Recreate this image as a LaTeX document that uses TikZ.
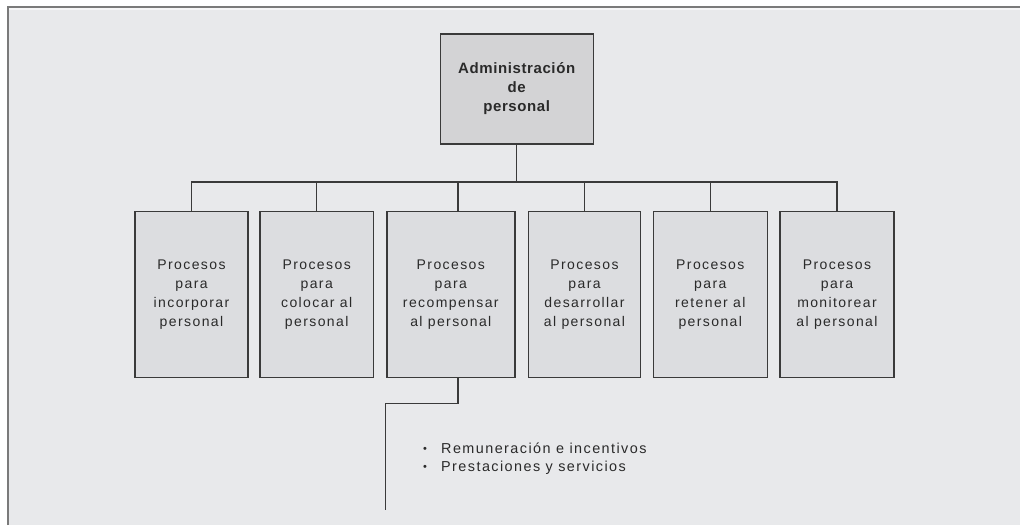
\documentclass[tikz,border=0pt]{standalone}
\usepackage{fontspec}
\setmainfont{Liberation Sans}
\newfontfamily\lsp[LetterSpace=10]{Liberation Sans}
\newfontfamily\lspb[LetterSpace=4]{Liberation Sans Bold}
\definecolor{bgc}{HTML}{E8E9EB}
\definecolor{topfill}{HTML}{D3D3D5}
\definecolor{boxfill}{HTML}{DCDDE0}
\definecolor{edgec}{HTML}{3A3A3A}
\definecolor{framec}{HTML}{7A7A7A}
\definecolor{txtc}{HTML}{2A2A2A}
\tikzset{
  topbox/.style={draw=edgec, line width=1.4pt, fill=topfill, inner sep=0pt,
    minimum width=153pt, minimum height=110pt, align=center, text=txtc,
    font=\lspb\fontsize{15pt}{19pt}\selectfont},
  childbox/.style={draw=edgec, line width=1.4pt, fill=boxfill, inner sep=0pt,
    minimum height=166pt, align=center, text=txtc,
    font=\lsp\fontsize{14pt}{19pt}\selectfont},
  conn/.style={draw=edgec, line width=1.4pt},
  listtext/.style={anchor=base west, inner sep=0pt, align=left, text=txtc,
    font=\lsp\fontsize{14.4pt}{18pt}\selectfont}
}
\newcommand{\listbul}{\makebox[18pt][l]{\fontsize{11pt}{11pt}\selectfont\raisebox{1pt}{•}}}
\begin{document}
\begin{tikzpicture}[x=1pt,y=-1pt]
\useasboundingbox (0,0) rectangle (1020,525);
\fill[white] (0,0) rectangle (1020,525);
\fill[bgc] (8,7) rectangle (1020,525);
\fill[white!60!bgc] (8,7) rectangle (1020,10);
\draw[framec, line width=1.5pt] (8,525) -- (8,7) -- (1020,7);

\node[topbox] (top) at (516.7,88.8) {Administración\\de\\personal};

\node[childbox, minimum width=113pt] (c1) at (191.5,294.4) {Procesos\\para\\incorporar\\personal};
\node[childbox, minimum width=113.5pt] (c2) at (316.7,294.4) {Procesos\\para\\colocar al\\personal};
\node[childbox, minimum width=128pt] (c3) at (450.8,294.4) {Procesos\\para\\recompensar\\al personal};
\node[childbox, minimum width=112.5pt] (c4) at (584.5,294.4) {Procesos\\para\\desarrollar\\al personal};
\node[childbox, minimum width=114pt] (c5) at (710.3,294.4) {Procesos\\para\\retener al\\personal};
\node[childbox, minimum width=114pt] (c6) at (837,294.4) {Procesos\\para\\monitorear\\al personal};

\coordinate (bar) at (516.7,182);
\draw[conn] (top.south) -- (bar);
\draw[conn] (c1.north) -- (c1.north |- bar) -- (c6.north |- bar) -- (c6.north);
\draw[conn] (c2.north) -- (c2.north |- bar);
\draw[conn] ([xshift=7.2pt]c3.north) -- ([xshift=7.2pt]c3.north |- bar);
\draw[conn] (c4.north) -- (c4.north |- bar);
\draw[conn] (c5.north) -- (c5.north |- bar);

\coordinate (stepc) at (385.7,403.3);
\coordinate (endc) at (385.7,510);
\draw[conn] ([xshift=7.2pt]c3.south) |- (stepc) -- (endc);

\node[listtext] (list) at (423,471) {\listbul Remuneración e incentivos\\
\listbul Prestaciones y servicios};
\end{tikzpicture}
\end{document}
